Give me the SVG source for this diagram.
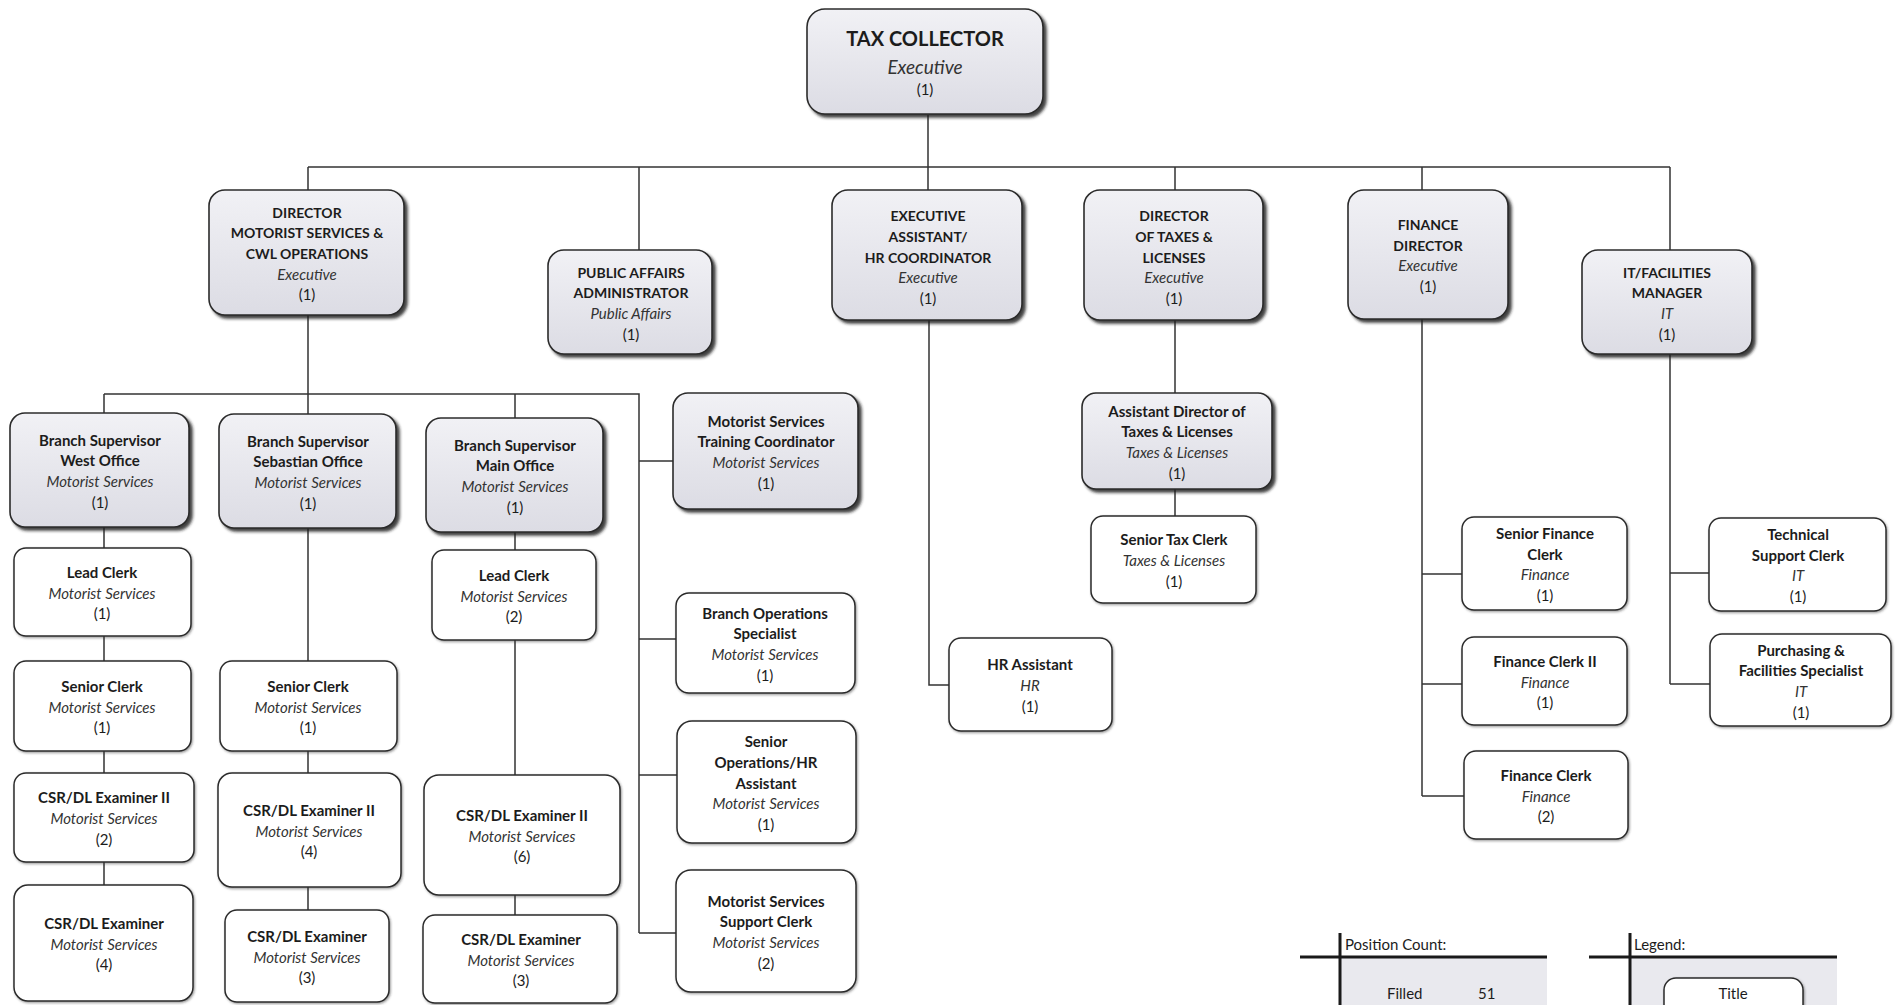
<svg xmlns="http://www.w3.org/2000/svg" width="1899" height="1005" viewBox="0 0 1899 1005">
<defs>
<linearGradient id="gf" x1="0" y1="0" x2="0" y2="1"><stop offset="0" stop-color="#f1f1f5"/><stop offset="1" stop-color="#dcdce4"/></linearGradient>
<filter id="sh" x="-10%" y="-10%" width="125%" height="125%"><feDropShadow dx="3" dy="3" stdDeviation="1.6" flood-color="#222" flood-opacity="0.85"/></filter>
<filter id="shw" x="-10%" y="-10%" width="125%" height="125%"><feDropShadow dx="1" dy="1.2" stdDeviation="0.8" flood-color="#333" flood-opacity="0.5"/></filter>
</defs>
<style>
text{font-family:Lato,"Liberation Sans",sans-serif;fill:#1c1c1c;text-anchor:middle}
.g{fill:url(#gf);stroke:#2b2b2b;stroke-width:1.6;filter:url(#sh)}
.w{fill:#fff;stroke:#2b2b2b;stroke-width:1.5;filter:url(#shw)}
.t{font-weight:bold;font-size:15px}
.tc{font-weight:bold;font-size:14px}
.s{font-style:italic;font-size:15px;fill:#333}
.c{font-size:15px}
.conn path{fill:none;stroke:#333;stroke-width:1.5}
.lg path{fill:none;stroke:#1a1a1a;stroke-width:3}
.lt{font-size:15px;text-anchor:start}
</style>
<rect width="1899" height="1005" fill="#fff"/>
<g class="conn">
<path d="M928 115V190M308 167H1670M308 167V190M639 167V250M1175 167V190M1422 167V190M1670 167V250"/>
<path d="M308 315V414M104 394H639V933M104 394V413M515 394V418"/>
<path d="M104 527V548M104 636V661M104 751V773M104 862V885"/>
<path d="M308 528V661M308 751V773M308 887V910"/>
<path d="M515 532V550M515 640V775M515 895V915"/>
<path d="M639 461H673M639 639H676M639 775H677M639 933H676"/>
<path d="M929 320V685H949"/>
<path d="M1175 320V393M1175 489V516"/>
<path d="M1422 319V796M1422 574H1462M1422 684H1462M1422 796H1464"/>
<path d="M1670 354V684M1670 573H1709M1670 684H1710"/>
</g>
<g id="tax-collector"><rect class="g" x="807" y="9" width="236" height="105" rx="18"/>
<text x="925" y="46" style="font-weight:bold;font-size:20px">TAX COLLECTOR</text>
<text x="925" y="74" style="font-style:italic;font-size:19px;fill:#333">Executive</text>
<text x="925" y="95" class="c">(1)</text></g>
<g id="dir-motorist"><rect class="g" x="209" y="190" width="195" height="125" rx="16"/>
<text class="tc" x="307" y="217.6">DIRECTOR</text><text class="tc" x="307" y="238.3">MOTORIST SERVICES &amp;</text><text class="tc" x="307" y="259">CWL OPERATIONS</text><text class="s" x="307" y="279.7">Executive</text><text class="c" x="307" y="300.4">(1)</text></g>
<g id="public-affairs"><rect class="g" x="548" y="250" width="164" height="104" rx="16"/>
<text class="tc" x="631" y="277.5">PUBLIC AFFAIRS</text><text class="tc" x="631" y="298">ADMINISTRATOR</text><text class="s" x="631" y="319">Public Affairs</text><text class="c" x="631" y="339.5">(1)</text></g>
<g id="exec-assistant"><rect class="g" x="832" y="190" width="190" height="130" rx="16"/>
<text class="tc" x="928" y="221">EXECUTIVE</text><text class="tc" x="928" y="242">ASSISTANT/</text><text class="tc" x="928" y="262.5">HR COORDINATOR</text><text class="s" x="928" y="283">Executive</text><text class="c" x="928" y="304">(1)</text></g>
<g id="dir-taxes"><rect class="g" x="1084" y="190" width="179" height="130" rx="16"/>
<text class="tc" x="1174" y="221">DIRECTOR</text><text class="tc" x="1174" y="242">OF TAXES &amp;</text><text class="tc" x="1174" y="262.5">LICENSES</text><text class="s" x="1174" y="283">Executive</text><text class="c" x="1174" y="304">(1)</text></g>
<g id="finance-director"><rect class="g" x="1348" y="190" width="160" height="129" rx="16"/>
<text class="tc" x="1428" y="230">FINANCE</text><text class="tc" x="1428" y="250.7">DIRECTOR</text><text class="s" x="1428" y="271.4">Executive</text><text class="c" x="1428" y="292">(1)</text></g>
<g id="it-manager"><rect class="g" x="1582" y="250" width="170" height="104" rx="16"/>
<text class="tc" x="1667" y="277.5">IT/FACILITIES</text><text class="tc" x="1667" y="298">MANAGER</text><text class="s" x="1667" y="319">IT</text><text class="c" x="1667" y="339.5">(1)</text></g>
<g id="bs-west"><rect class="g" x="10" y="413" width="179" height="114" rx="15"/>
<text class="t" x="100" y="445.5">Branch Supervisor</text><text class="t" x="100" y="466">West Office</text><text class="s" x="100" y="487">Motorist Services</text><text class="c" x="100" y="507.5">(1)</text></g>
<g id="bs-sebastian"><rect class="g" x="219" y="414" width="177" height="114" rx="15"/>
<text class="t" x="308" y="446.5">Branch Supervisor</text><text class="t" x="308" y="467">Sebastian Office</text><text class="s" x="308" y="488">Motorist Services</text><text class="c" x="308" y="508.5">(1)</text></g>
<g id="bs-main"><rect class="g" x="426" y="418" width="177" height="114" rx="15"/>
<text class="t" x="515" y="450.5">Branch Supervisor</text><text class="t" x="515" y="471">Main Office</text><text class="s" x="515" y="492">Motorist Services</text><text class="c" x="515" y="512.5">(1)</text></g>
<g id="training-coord"><rect class="g" x="673" y="393" width="185" height="116" rx="15"/>
<text class="t" x="766" y="426.5">Motorist Services</text><text class="t" x="766" y="447">Training Coordinator</text><text class="s" x="766" y="468">Motorist Services</text><text class="c" x="766" y="488.5">(1)</text></g>
<g id="lead-west"><rect class="w" x="14" y="548" width="177" height="88" rx="12"/>
<text class="t" x="102" y="578">Lead Clerk</text><text class="s" x="102" y="598.5">Motorist Services</text><text class="c" x="102" y="619">(1)</text></g>
<g id="lead-main"><rect class="w" x="432" y="550" width="164" height="90" rx="12"/>
<text class="t" x="514" y="581">Lead Clerk</text><text class="s" x="514" y="601.5">Motorist Services</text><text class="c" x="514" y="622">(2)</text></g>
<g id="senior-west"><rect class="w" x="14" y="661" width="177" height="90" rx="12"/>
<text class="t" x="102" y="692">Senior Clerk</text><text class="s" x="102" y="712.5">Motorist Services</text><text class="c" x="102" y="733">(1)</text></g>
<g id="senior-sebastian"><rect class="w" x="220" y="661" width="177" height="90" rx="12"/>
<text class="t" x="308" y="692">Senior Clerk</text><text class="s" x="308" y="712.5">Motorist Services</text><text class="c" x="308" y="733">(1)</text></g>
<g id="csr2-west"><rect class="w" x="14" y="773" width="180" height="89" rx="12"/>
<text class="t" x="104" y="803.3">CSR/DL Examiner II</text><text class="s" x="104" y="824">Motorist Services</text><text class="c" x="104" y="844.7">(2)</text></g>
<g id="csr2-sebastian"><rect class="w" x="218" y="773" width="183" height="114" rx="14"/>
<text class="t" x="309" y="816">CSR/DL Examiner II</text><text class="s" x="309" y="836.5">Motorist Services</text><text class="c" x="309" y="857">(4)</text></g>
<g id="csr2-main"><rect class="w" x="424" y="775" width="196" height="120" rx="15"/>
<text class="t" x="522" y="821">CSR/DL Examiner II</text><text class="s" x="522" y="841.5">Motorist Services</text><text class="c" x="522" y="862">(6)</text></g>
<g id="csr-west"><rect class="w" x="14" y="885" width="179" height="116" rx="14"/>
<text class="t" x="104" y="929">CSR/DL Examiner</text><text class="s" x="104" y="949.5">Motorist Services</text><text class="c" x="104" y="970">(4)</text></g>
<g id="csr-sebastian"><rect class="w" x="225" y="910" width="164" height="92" rx="12"/>
<text class="t" x="307" y="942">CSR/DL Examiner</text><text class="s" x="307" y="962.5">Motorist Services</text><text class="c" x="307" y="983">(3)</text></g>
<g id="csr-main"><rect class="w" x="423" y="915" width="194" height="88" rx="12"/>
<text class="t" x="521" y="945">CSR/DL Examiner</text><text class="s" x="521" y="965.5">Motorist Services</text><text class="c" x="521" y="986">(3)</text></g>
<g id="branch-ops"><rect class="w" x="676" y="593" width="179" height="100" rx="13"/>
<text class="t" x="765" y="618.5">Branch Operations</text><text class="t" x="765" y="639">Specialist</text><text class="s" x="765" y="660">Motorist Services</text><text class="c" x="765" y="680.5">(1)</text></g>
<g id="senior-ops"><rect class="w" x="677" y="721" width="179" height="122" rx="15"/>
<text class="t" x="766" y="747">Senior</text><text class="t" x="766" y="768">Operations/HR</text><text class="t" x="766" y="788.5">Assistant</text><text class="s" x="766" y="809">Motorist Services</text><text class="c" x="766" y="830">(1)</text></g>
<g id="support-clerk"><rect class="w" x="676" y="870" width="180" height="122" rx="15"/>
<text class="t" x="766" y="906.5">Motorist Services</text><text class="t" x="766" y="927">Support Clerk</text><text class="s" x="766" y="948">Motorist Services</text><text class="c" x="766" y="968.5">(2)</text></g>
<g id="hr-assistant"><rect class="w" x="949" y="638" width="163" height="93" rx="12"/>
<text class="t" x="1030" y="670.3">HR Assistant</text><text class="s" x="1030" y="691">HR</text><text class="c" x="1030" y="711.7">(1)</text></g>
<g id="asst-dir-taxes"><rect class="g" x="1082" y="393" width="190" height="96" rx="14"/>
<text class="t" x="1177" y="416.5">Assistant Director of</text><text class="t" x="1177" y="437">Taxes &amp; Licenses</text><text class="s" x="1177" y="458">Taxes &amp; Licenses</text><text class="c" x="1177" y="478.5">(1)</text></g>
<g id="senior-tax-clerk"><rect class="w" x="1091" y="516" width="165" height="87" rx="12"/>
<text class="t" x="1174" y="545.3">Senior Tax Clerk</text><text class="s" x="1174" y="566">Taxes &amp; Licenses</text><text class="c" x="1174" y="586.7">(1)</text></g>
<g id="senior-finance-clerk"><rect class="w" x="1462" y="517" width="165" height="93" rx="12"/>
<text class="t" x="1545" y="539">Senior Finance</text><text class="t" x="1545" y="559.7">Clerk</text><text class="s" x="1545" y="580.4">Finance</text><text class="c" x="1545" y="601">(1)</text></g>
<g id="finance-clerk-2"><rect class="w" x="1462" y="637" width="165" height="88" rx="12"/>
<text class="t" x="1545" y="667">Finance Clerk II</text><text class="s" x="1545" y="687.5">Finance</text><text class="c" x="1545" y="708">(1)</text></g>
<g id="finance-clerk"><rect class="w" x="1464" y="751" width="164" height="88" rx="12"/>
<text class="t" x="1546" y="781">Finance Clerk</text><text class="s" x="1546" y="801.5">Finance</text><text class="c" x="1546" y="822">(2)</text></g>
<g id="tech-support"><rect class="w" x="1709" y="518" width="177" height="93" rx="12"/>
<text class="t" x="1798" y="540">Technical</text><text class="t" x="1798" y="560.7">Support Clerk</text><text class="s" x="1798" y="581.4">IT</text><text class="c" x="1798" y="602">(1)</text></g>
<g id="purchasing"><rect class="w" x="1710" y="634" width="181" height="92" rx="12"/>
<text class="t" x="1801" y="655.5">Purchasing &amp;</text><text class="t" x="1801" y="676">Facilities Specialist</text><text class="s" x="1801" y="697">IT</text><text class="c" x="1801" y="717.5">(1)</text></g>
<g id="position-count">
<rect x="1340" y="957" width="207" height="48" fill="#e9e9ee"/>
<g class="lg"><path d="M1340 933V1005M1300 957H1547"/></g>
<text class="lt" x="1345" y="950">Position Count:</text>
<text class="lt" x="1387" y="999">Filled</text><text class="lt" x="1478" y="999">51</text></g>
<g id="legend">
<rect x="1630" y="957" width="207" height="48" fill="#e9e9ee"/>
<g class="lg"><path d="M1630 933V1005M1589 957H1837"/></g>
<text class="lt" x="1634" y="950">Legend:</text>
<rect class="w" x="1664" y="978" width="139" height="45" rx="12"/>
<text x="1733" y="999" style="font-size:15px">Title</text></g>
</svg>
